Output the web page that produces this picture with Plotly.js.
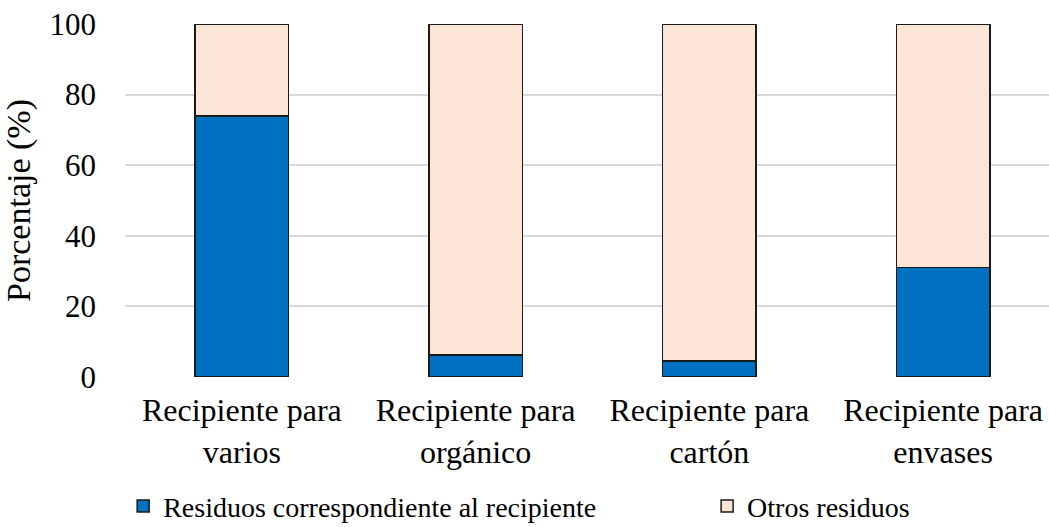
<!DOCTYPE html>
<html>
<head>
<meta charset="utf-8">
<script src="https://cdn.plot.ly/plotly-3.0.1.min.js"></script>
<style>html,body{margin:0;padding:0;background:#fff;}</style>
</head>
<body>
<div id="chart" style="width:1049px;height:527px"></div>
<script>
const categories = ["Recipiente para<br>varios", "Recipiente para<br>orgánico", "Recipiente para<br>cartón", "Recipiente para<br>envases"];
const seriesNames = ["Residuos correspondiente al recipiente", "Otros residuos"];
const residuosCorrespondientes = [74, 6.3, 4.6, 31];
const otrosResiduos = [26, 93.7, 95.4, 69];
const yTicks = [0, 20, 40, 60, 80, 100];

const FAM = "Liberation Serif, Times New Roman, serif";
function f(size) { return {family: FAM, color: "#000000", size: size}; }

const traces = [
  {type: "bar", name: seriesNames[0], x: categories, y: residuosCorrespondientes, legend: "legend",
   marker: {color: "#0070C0", line: {color: "#1a1a1a", width: 1.5}}, width: 0.4},
  {type: "bar", name: seriesNames[1], x: categories, y: otrosResiduos, legend: "legend2",
   marker: {color: "#FBE5D6", line: {color: "#1a1a1a", width: 1.5}}, width: 0.4}
];

const layout = {
  width: 1049, height: 527,
  barmode: "stack",
  margin: {l: 125, r: 0, t: 24, b: 150, autoexpand: false},
  paper_bgcolor: "#ffffff", plot_bgcolor: "#ffffff",
  font: f(30),
  showlegend: true,
  xaxis: {type: "category", range: [-0.5, 3.453], showgrid: false, zeroline: false,
          showline: false, ticks: "", tickfont: f(32), automargin: false, ticklabelstandoff: 11},
  yaxis: {range: [0, 100], tickvals: yTicks, ticktext: yTicks.map(String),
          showgrid: true, gridcolor: "#d9d9d9", gridwidth: 1.5, zeroline: false,
          showline: false, ticks: "", tickfont: f(31), automargin: false, ticklabelstandoff: 28,
          title: {text: "Porcentaje (%)", font: f(34), standoff: 8}},
  legend: {orientation: "h", x: -0.002, xanchor: "left", y: -0.366, yanchor: "middle",
           font: f(28), bgcolor: "rgba(0,0,0,0)"},
  legend2: {orientation: "h", x: 0.63, xanchor: "left", y: -0.366, yanchor: "middle",
           font: f(28), bgcolor: "rgba(0,0,0,0)"},
  bargap: 0.6
};

Plotly.newPlot("chart", traces, layout, {displayModeBar: false});
</script>
</body>
</html>
